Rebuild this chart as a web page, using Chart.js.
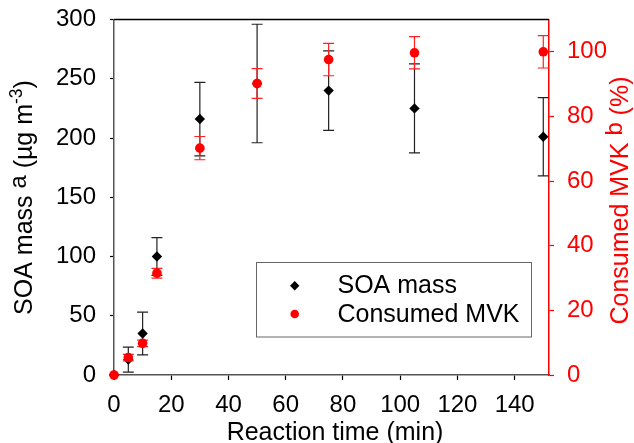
<!DOCTYPE html>
<html>
<head>
<meta charset="utf-8">
<script src="https://cdn.jsdelivr.net/npm/chart.js@4/dist/chart.umd.min.js"></script>
<style>
  body { margin: 0; background: #fff; }
  canvas { display: block; }
</style>
</head>
<body>
<canvas id="chart" width="634" height="443"></canvas>
<script>
// reaction time (min)
const times = [0, 5, 10, 15, 30, 50, 75, 105, 150];
// SOA mass (ug m-3) and its error
const soaMass = [0, 13, 35, 100, 216, 246, 240, 225, 201];
const soaErr = [0, 10.5, 18, 16, 31, 50, 33.5, 37.5, 33];
// consumed MVK (%) and its error
const mvkConsumed = [0, 5.4, 9.8, 31.5, 70.2, 90.2, 97.6, 99.7, 100];
const mvkErr = [0, 1, 1, 1.5, 3.6, 4.6, 5, 5, 5];

const FONT = '"Liberation Sans", Arial, sans-serif';

function toPoints(ys) {
    return times.map((t, i) => ({ x: t, y: ys[i] }));
}

// draws vertical error bars with caps before each dataset's markers
const errorBars = {
    id: 'errorBars',
    beforeDatasetDraw(chart, args) {
        const ds = chart.data.datasets[args.index];
        if (!ds.errors) return;
        const ctx = chart.ctx;
        const xs = chart.scales.x;
        const ys = chart.scales[ds.yAxisID];
        ctx.save();
        ctx.strokeStyle = ds.errorColor;
        ctx.lineWidth = 1.2;
        ds.data.forEach((p, i) => {
            const e = ds.errors[i];
            if (!e) return;
            const px = xs.getPixelForValue(p.x);
            const top = ys.getPixelForValue(p.y + e);
            const bot = ys.getPixelForValue(p.y - e);
            ctx.beginPath();
            ctx.moveTo(px, top); ctx.lineTo(px, bot);
            ctx.moveTo(px - 5.5, top); ctx.lineTo(px + 5.5, top);
            ctx.moveTo(px - 5.5, bot); ctx.lineTo(px + 5.5, bot);
            ctx.stroke();
        });
        ctx.restore();
    }
};

function drawRich(ctx, parts, size) {
    let w = 0;
    parts.forEach(p => {
        ctx.font = (p.sup ? size * p.sup : size) + 'px ' + FONT;
        p.w = ctx.measureText(p.t).width;
        w += p.w;
    });
    let x = -w / 2;
    parts.forEach(p => {
        ctx.font = (p.sup ? size * p.sup : size) + 'px ' + FONT;
        ctx.fillText(p.t, x, p.sup ? -size * p.rise : 0);
        x += p.w;
    });
}

// frame top line, axis titles with superscripts, and the boxed legend
const decorations = {
    id: 'decorations',
    afterDraw(chart) {
        const ctx = chart.ctx;
        const a = chart.chartArea;
        ctx.save();
        ctx.strokeStyle = '#000';
        ctx.lineWidth = 1.5;
        ctx.beginPath();
        ctx.moveTo(a.left, a.top);
        ctx.lineTo(a.right, a.top);
        ctx.stroke();

        ctx.textBaseline = 'alphabetic';
        ctx.textAlign = 'left';

        // x title
        ctx.fillStyle = '#000';
        ctx.save();
        ctx.translate(335, 440);
        drawRich(ctx, [{ t: 'Reaction time (min)' }], 25);
        ctx.restore();

        // left title
        ctx.save();
        ctx.translate(32, 197.5);
        ctx.rotate(-Math.PI / 2);
        drawRich(ctx, [
            { t: 'SOA mass ' },
            { t: 'a', sup: 0.95, rise: 0.25 },
            { t: ' (µg m' },
            { t: '-3', sup: 0.7, rise: 0.42 },
            { t: ')' }
        ], 25);
        ctx.restore();

        // right title
        ctx.fillStyle = '#ff0000';
        ctx.save();
        ctx.translate(628, 200.5);
        ctx.rotate(-Math.PI / 2);
        drawRich(ctx, [
            { t: 'Consumed MVK ' },
            { t: 'b', sup: 0.95, rise: 0.25 },
            { t: ' (%)' }
        ], 25);
        ctx.restore();

        // legend box
        ctx.strokeStyle = '#666';
        ctx.lineWidth = 1;
        ctx.strokeRect(256.5, 262.5, 275, 74.5);
        ctx.fillStyle = '#000';
        ctx.beginPath();
        ctx.moveTo(294.7, 281); ctx.lineTo(299.4, 285.7);
        ctx.lineTo(294.7, 290.4); ctx.lineTo(290, 285.7);
        ctx.closePath();
        ctx.fill();
        ctx.fillStyle = '#ff0000';
        ctx.beginPath();
        ctx.arc(294.7, 314, 4.3, 0, Math.PI * 2);
        ctx.fill();
        ctx.fillStyle = '#000';
        ctx.font = '25px ' + FONT;
        ctx.textBaseline = 'middle';
        chart.data.datasets.forEach((ds, i) => {
            ctx.fillText(ds.label, 337.5, 286.5 + i * 28.5);
        });
        ctx.restore();
    }
};

const tickFont = { family: FONT, size: 24 };

// fixed axis sizes, no extra label overflow padding
function fixSize(w, h) {
    return s => {
        if (w) s.width = w;
        if (h) s.height = h;
        s.paddingTop = 0;
        s.paddingBottom = 0;
        s.paddingLeft = 0;
        s.paddingRight = 0;
    };
}

new Chart(document.getElementById('chart'), {
    type: 'scatter',
    data: {
        datasets: [{
            label: 'SOA mass',
            data: toPoints(soaMass),
            errors: soaErr,
            errorColor: '#222',
            yAxisID: 'y',
            order: 2,
            pointStyle: 'rectRot',
            pointRadius: 5.2,
            backgroundColor: '#000',
            borderColor: '#000',
            borderWidth: 0,
            clip: false
        }, {
            label: 'Consumed MVK',
            data: toPoints(mvkConsumed),
            errors: mvkErr,
            errorColor: '#ff2020',
            yAxisID: 'y2',
            order: 1,
            pointStyle: 'circle',
            pointRadius: 4.8,
            backgroundColor: '#ff0000',
            borderColor: '#ff0000',
            borderWidth: 0,
            clip: false
        }]
    },
    options: {
        responsive: false,
        animation: false,
        devicePixelRatio: 1,
        layout: { padding: { top: 19.5, left: 0, right: 0, bottom: 0 } },
        plugins: {
            legend: { display: false },
            tooltip: { enabled: false }
        },
        scales: {
            x: {
                type: 'linear',
                min: 0,
                max: 152,
                afterFit: fixSize(0, 68),
                ticks: { stepSize: 20, includeBounds: false, color: '#000', font: tickFont, padding: 11, maxRotation: 0 },
                grid: { drawOnChartArea: false, tickLength: 5, tickColor: '#000', tickWidth: 1.2 },
                border: { color: '#555', width: 1.5 }
            },
            y: {
                position: 'left',
                min: 0,
                max: 300,
                afterFit: fixSize(114, 0),
                ticks: { stepSize: 50, color: '#000', font: tickFont, padding: 14 },
                grid: { drawOnChartArea: false, tickLength: 4, tickColor: '#000', tickWidth: 1.2 },
                border: { color: '#555', width: 1.5 }
            },
            y2: {
                position: 'right',
                min: 0,
                max: 110,
                afterFit: fixSize(85, 0),
                ticks: { stepSize: 20, includeBounds: false, color: '#ff0000', font: tickFont, padding: 13 },
                grid: { drawOnChartArea: false, tickLength: 5, tickColor: '#ff0000', tickWidth: 1.2 },
                border: { color: '#ff0000', width: 1.5 }
            }
        }
    },
    plugins: [errorBars, decorations]
});
</script>
</body>
</html>
